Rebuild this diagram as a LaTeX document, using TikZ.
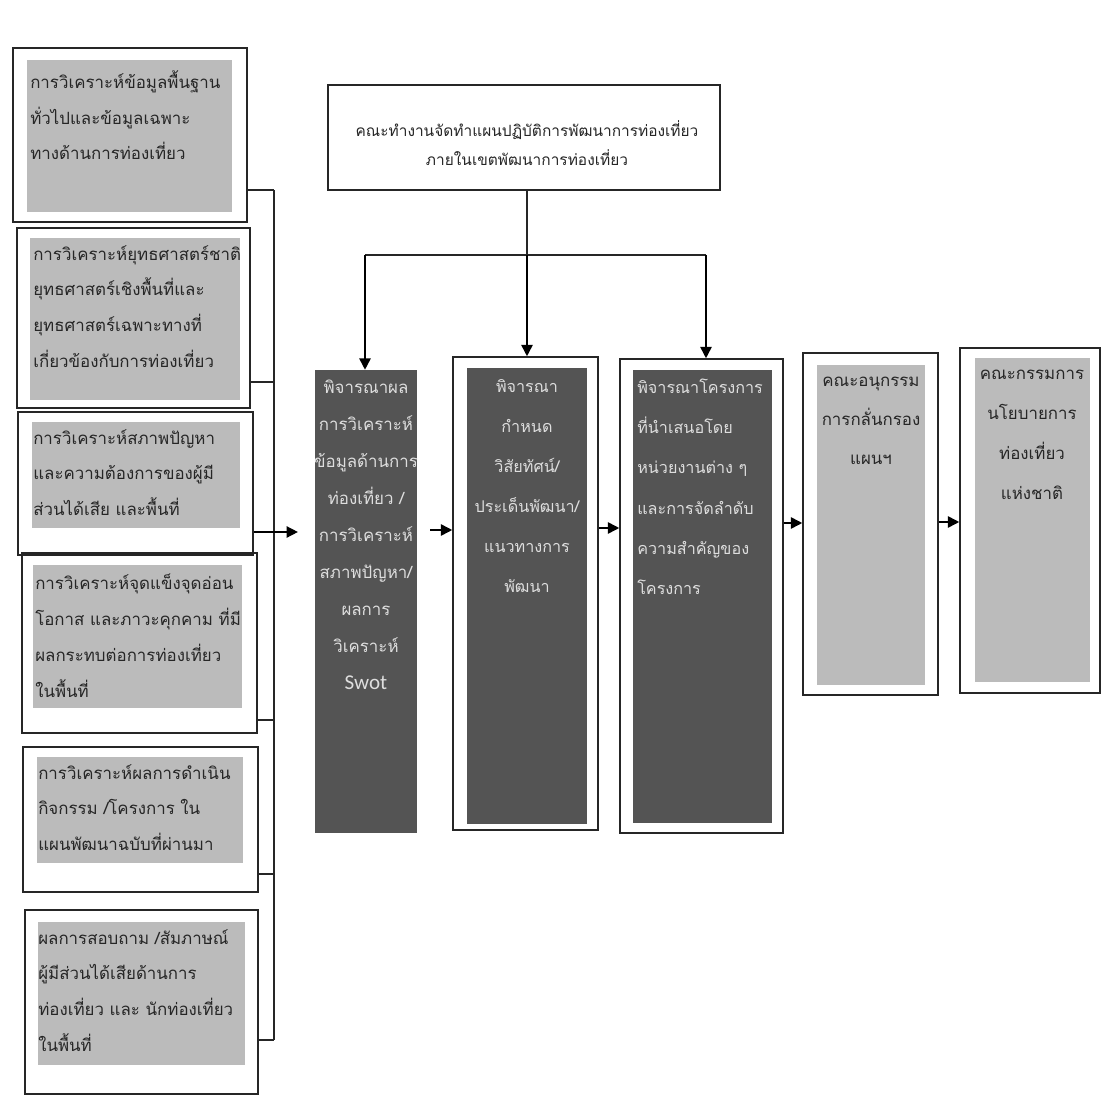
\documentclass[tikz,border=0pt]{standalone}
\usepackage{fontspec}
\newfontfamily\thaifont[Script=Thai]{Loma}
\newfontfamily\swotfont{Carlito}
\usepackage{tikz}
\usetikzlibrary{arrows.meta, positioning, fit}
\definecolor{boxgray}{HTML}{BBBBBB}
\definecolor{darkfill}{HTML}{545454}
\definecolor{inkgray}{HTML}{262626}
\definecolor{paletext}{HTML}{DEDEDE}

\begin{document}
\begin{tikzpicture}[x=0.025cm, y=-0.025cm,
  outbox/.style={draw=inkgray, line width=1.1pt, inner sep=0pt},
  greybox/.style={fill=boxgray, inner sep=0pt},
  darkbox/.style={fill=darkfill, inner sep=0pt},
  srctext/.style={anchor=north west, inner sep=0pt, align=left, text=inkgray,
    font=\thaifont\fontsize{12pt}{25.5pt}\selectfont, execute at begin node=\rule{0pt}{13pt}},
  steptext/.style={anchor=north, inner sep=0pt, align=center, text=paletext,
    font=\thaifont\fontsize{11.5pt}{28.5pt}\selectfont, execute at begin node=\rule{0pt}{13pt}},
  flow/.style={-{Triangle[length=8pt,width=8pt]}, line width=1.1pt, draw=black},
  link/.style={line width=1.1pt, draw=inkgray}]

\useasboundingbox (0,0) rectangle (1101,1097);

% left column
\node[outbox, fit={(13,48) (247,222)}] (in1) {};
\node[greybox, fit={(27,60) (232,212)}] (ig1) {};
\node[srctext] (it1) at (30,70) {การวิเคราะห์ข้อมูลพื้นฐาน\\ทั่วไปและข้อมูลเฉพาะ\\ทางด้านการท่องเที่ยว};

\node[outbox, fit={(17,228) (250,408)}] (in2) {};
\node[greybox, fit={(30,238) (240,400)}] (ig2) {};
\node[srctext] (it2) at (33,245) {การวิเคราะห์ยุทธศาสตร์ชาติ\\ยุทธศาสตร์เชิงพื้นที่และ\\ยุทธศาสตร์เฉพาะทางที่\\เกี่ยวข้องกับการท่องเที่ยว};

\node[outbox, fit={(18,412) (253,555)}] (in3) {};
\node[greybox, fit={(32,422) (240,528)}] (ig3) {};
\node[srctext] (it3) at (33,429) {การวิเคราะห์สภาพปัญหา\\และความต้องการของผู้มี\\ส่วนได้เสีย และพื้นที่};

\node[outbox, fit={(22,553) (257,733)}] (in4) {};
\node[greybox, fit={(33,565) (242,708)}] (ig4) {};
\node[srctext] (it4) at (35,574) {การวิเคราะห์จุดแข็งจุดอ่อน\\โอกาส และภาวะคุกคาม ที่มี\\ผลกระทบต่อการท่องเที่ยว\\ในพื้นที่};

\node[outbox, fit={(23,747) (258,892)}] (in5) {};
\node[greybox, fit={(37,757) (243,863)}] (ig5) {};
\node[srctext] (it5) at (38,764) {การวิเคราะห์ผลการดำเนิน\\กิจกรรม /โครงการ ใน\\แผนพัฒนาฉบับที่ผ่านมา};

\node[outbox, fit={(25,910) (258,1094)}] (in6) {};
\node[greybox, fit={(38,922) (245,1065)}] (ig6) {};
\node[srctext] (it6) at (38,929) {ผลการสอบถาม /สัมภาษณ์\\ผู้มีส่วนได้เสียด้านการ\\ท่องเที่ยว และ นักท่องเที่ยว\\ในพื้นที่};

% bracket
\coordinate (k1) at (274,190);
\coordinate (k2) at (274,382);
\coordinate (k3) at (274,532);
\coordinate (k4) at (274,720);
\coordinate (k5) at (274,874);
\coordinate (k6) at (274,1040);
\draw[link] (k1) -- (k6);
\draw[link] (in1.east |- k1) -- (k1);
\draw[link] (in2.east |- k2) -- (k2);
\draw[link] (in4.east |- k4) -- (k4);
\draw[link] (in5.east |- k5) -- (k5);
\draw[link] (in6.east |- k6) -- (k6);

% top
\node[outbox, fit={(328,85) (720,190)}] (team) {};
\node[anchor=north, inner sep=0pt, align=center, text=inkgray,
  font=\thaifont\fontsize{11pt}{20.6pt}\selectfont, execute at begin node=\rule{0pt}{13pt}]
  (teamtext) at (527,120) {คณะทำงานจัดทำแผนปฏิบัติการพัฒนาการท่องเที่ยว\\ภายในเขตพัฒนาการท่องเที่ยว};

% steps
\node[darkbox, fit={(315,370) (417,833)}] (st1) {};
\node[steptext, font=\thaifont\fontsize{12pt}{26.3pt}\selectfont] (tt1) at (366,380) {พิจารณาผล\\การวิเคราะห์\\ข้อมูลด้านการ\\ท่องเที่ยว /\\การวิเคราะห์\\สภาพปัญหา/\\ผลการ\\วิเคราะห์\\{\swotfont\fontsize{15pt}{26.3pt}\selectfont Swot}};

\node[outbox, fit={(453,357) (598,830)}] (st2) {};
\node[darkbox, fit={(467,368) (587,824)}] (sf2) {};
\node[steptext] (tt2) at (527,379) {พิจารณา\\กำหนด\\วิสัยทัศน์/\\ประเด็นพัฒนา/\\แนวทางการ\\พัฒนา};

\node[outbox, fit={(620,359) (783,833)}] (st3) {};
\node[darkbox, fit={(633,370) (772,823)}] (sf3) {};
\node[steptext, anchor=north west, align=left] (tt3) at (637,379) {พิจารณาโครงการ\\ที่นำเสนอโดย\\หน่วยงานต่าง ๆ\\และการจัดลำดับ\\ความสำคัญของ\\โครงการ};

\node[outbox, fit={(803,353) (938,695)}] (st4) {};
\node[greybox, fit={(817,365) (925,685)}] (sf4) {};
\node[steptext, text=inkgray, font=\thaifont\fontsize{12pt}{27.5pt}\selectfont] (tt4) at (871,377) {คณะอนุกรรม\\การกลั่นกรอง\\แผนฯ};

\node[outbox, fit={(960,348) (1100,693)}] (st5) {};
\node[greybox, fit={(975,358) (1090,682)}] (sf5) {};
\node[steptext, text=inkgray, font=\thaifont\fontsize{12pt}{28.5pt}\selectfont] (tt5) at (1032,370) {คณะกรรมการ\\นโยบายการ\\ท่องเที่ยว\\แห่งชาติ};

% connectors
\coordinate (split) at (527,255);
\coordinate (sl) at (365,255);
\coordinate (sr) at (706,255);
\draw[link] (team.south -| split) -- (split);
\draw[link] (sl) -- (sr);
\draw[flow] (sl) -- (sl |- st1.north);
\draw[flow] (split) -- (split |- st2.north);
\draw[flow] (sr) -- (sr |- st3.north);

\draw[flow, shorten >=0.42cm] (in3.east |- k3) -- (st1.west |- k3);
\draw[flow, shorten <=0.32cm] (st1.east |- 0,530) -- (st2.west |- 0,530);
\draw[flow] (st2.east |- 0,528) -- (st3.west |- 0,528);
\draw[flow] (st3.east |- 0,523) -- (st4.west |- 0,523);
\draw[flow] (st4.east |- 0,522) -- (st5.west |- 0,522);

\end{tikzpicture}
\end{document}
